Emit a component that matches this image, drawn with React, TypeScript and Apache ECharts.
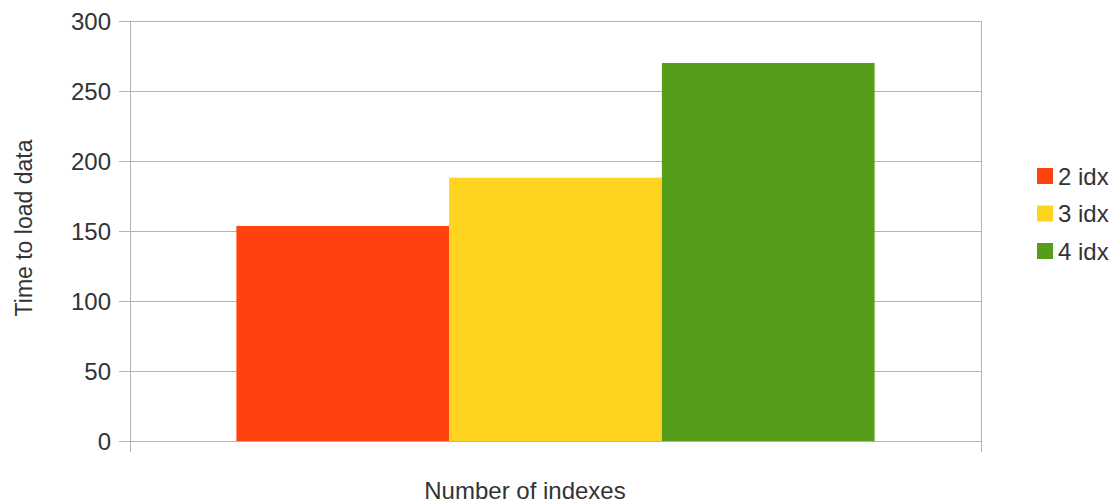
import React, { useEffect, useRef } from "react";
import * as echarts from "echarts";

const categories = [""];
const seriesNames = ["2 idx", "3 idx", "4 idx"];
const seriesValues = [[153.5], [188], [270]];
const seriesColors = ["#ff420e", "#ffd320", "#579d1c"];
const yTicks = { min: 0, max: 300, interval: 50 };
const xName = "Number of indexes";
const yName = "Time to load data";

export default function App() {
  const ref = useRef<HTMLDivElement>(null);
  useEffect(() => {
    if (!ref.current) return;
    const chart = echarts.init(ref.current, null, { renderer: "svg" });
    const font = "Liberation Sans, Arial, sans-serif";
    chart.setOption({
      animation: false,
      textStyle: { fontFamily: font },
      grid: { left: 130, right: 137, top: 21, bottom: 61, containLabel: false },
      legend: {
        orient: "vertical",
        left: 1037,
        top: 164,
        padding: 0,
        itemWidth: 16,
        itemHeight: 16,
        itemGap: 13.5,
        icon: "rect",
        textStyle: { fontSize: 24, color: "#333", fontFamily: font },
        data: seriesNames,
      },
      xAxis: {
        type: "category",
        data: categories,
        boundaryGap: true,
        axisLine: { show: true, lineStyle: { color: "#b3b3b3", width: 1 } },
        axisTick: { show: true, length: 11, lineStyle: { color: "#b3b3b3" } },
        axisLabel: { show: false },
        splitLine: { show: true, lineStyle: { color: "#b3b3b3", width: 1 } },
      },
      yAxis: {
        type: "value",
        min: yTicks.min,
        max: yTicks.max,
        interval: yTicks.interval,
        axisLine: { show: true, lineStyle: { color: "#b3b3b3", width: 1 } },
        axisTick: { show: true, length: 11, lineStyle: { color: "#b3b3b3" } },
        axisLabel: { fontSize: 24, color: "#333", margin: 19, fontFamily: font },
        splitLine: { show: true, lineStyle: { color: "#b3b3b3", width: 1 } },
      },
      graphic: [
        {
          type: "text",
          x: 525,
          y: 490,
          style: { text: xName, fontSize: 24, fill: "#333", fontFamily: font, align: "center", verticalAlign: "middle" },
        },
        {
          type: "text",
          x: 24,
          y: 228,
          rotation: Math.PI / 2,
          style: { text: yName, fontSize: 23, fill: "#333", fontFamily: font, align: "center", verticalAlign: "middle" },
        },
      ],
      series: seriesNames.map((name, i) => ({
        name,
        type: "bar",
        data: seriesValues[i],
        barGap: "0%",
        barCategoryGap: "25%",
        itemStyle: { color: seriesColors[i] },
      })),
    });
    return () => chart.dispose();
  }, []);
  return <div ref={ref} style={{ width: 1118, height: 502, position: "absolute", left: 0, top: 0 }} />;
}
